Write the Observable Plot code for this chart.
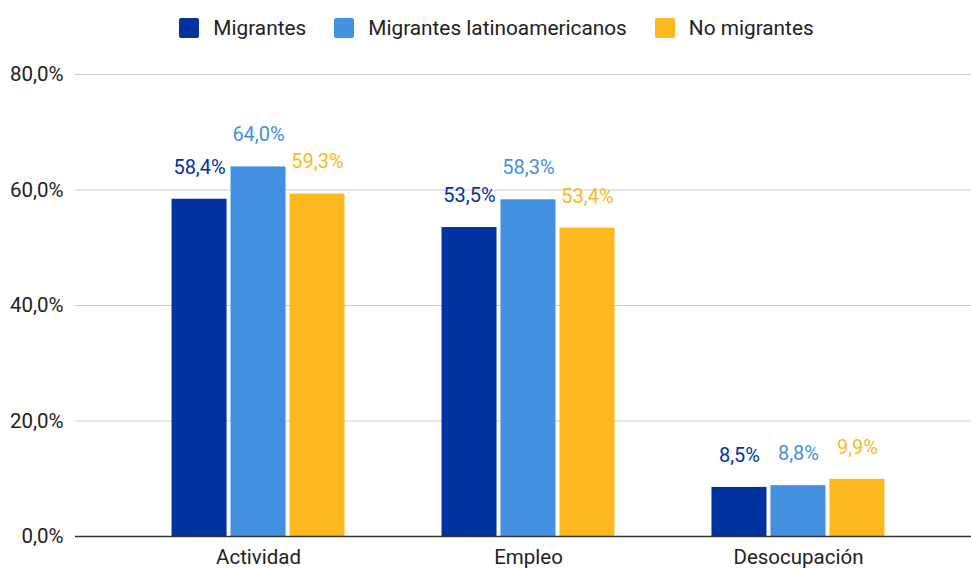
<!DOCTYPE html>
<html>
<head>
<meta charset="utf-8">
<script src="https://cdn.jsdelivr.net/npm/d3@7"></script>
<script src="https://cdn.jsdelivr.net/npm/@observablehq/plot@0.6"></script>
<style>
  body { margin: 0; background: #fff; font-family: Roboto, sans-serif; }
  #legend { height: 56px; display: flex; justify-content: center; align-items: center; font-size: 20.8px; color: #222; padding-left: 22px; }
  .item { display: flex; align-items: center; margin: 0 14px; }
  .sw { width: 20px; height: 20px; border-radius: 2px; margin-right: 14px; }
  svg { display: block; overflow: visible; }
</style>
</head>
<body>
<div id="legend"></div>
<div id="chart"></div>
<script>
const categories = ["Actividad", "Empleo", "Desocupación"];
const seriesNames = ["Migrantes", "Migrantes latinoamericanos", "No migrantes"];
const migrantes = [58.4, 53.5, 8.5];
const latinoamericanos = [64.0, 58.3, 8.8];
const noMigrantes = [59.3, 53.4, 9.9];
const yTicks = [0, 20, 40, 60, 80];
const colors = ["#0033a0", "#4391e0", "#fdb71f"];

const seriesValues = [migrantes, latinoamericanos, noMigrantes];
const data = [];
categories.forEach((c, ci) => {
  seriesNames.forEach((s, si) => {
    data.push({category: c, ci, series: s, si, value: seriesValues[si][ci]});
  });
});

const step = 0.2185, half = 0.1019;
const fmt = v => v.toFixed(1).replace(".", ",") + "%";

const legend = document.getElementById("legend");
seriesNames.forEach((s, i) => {
  const it = document.createElement("div");
  it.className = "item";
  it.innerHTML = `<span class="sw" style="background:${colors[i]}"></span><span>${s}</span>`;
  legend.appendChild(it);
});

const plot = Plot.plot({
  width: 971,
  height: 513,
  marginTop: 18,
  marginBottom: 33,
  marginLeft: 75,
  marginRight: 0,
  style: {fontFamily: "Roboto, sans-serif", background: "#fff", overflow: "visible"},
  x: {type: "linear", domain: [-0.678, 2.641], axis: null},
  y: {domain: [0, 80], axis: null},
  color: {domain: seriesNames, range: colors},
  marks: [
    Plot.ruleY(yTicks.filter(d => d !== 0), {stroke: "#cccccc", strokeWidth: 1}),
    Plot.rect(data, {
      x1: d => d.ci + (d.si - 1) * step - half,
      x2: d => d.ci + (d.si - 1) * step + half,
      y1: 0,
      y2: "value",
      fill: "series"
    }),
    Plot.ruleY([0], {stroke: "#333333", strokeWidth: 1.3}),
    Plot.text(data, {
      x: d => d.ci + (d.si - 1) * step,
      y: "value",
      text: d => fmt(d.value),
      fill: "series",
      dy: -32,
      lineAnchor: "middle",
      fontSize: 20
    }),
    Plot.text(yTicks, {
      y: d => d,
      frameAnchor: "left",
      text: d => fmt(d),
      textAnchor: "end",
      dx: -12,
      fill: "#222",
      fontSize: 20.5
    }),
    Plot.text(categories, {
      x: (d, i) => i,
      y: 0,
      text: d => d,
      dy: 21,
      lineAnchor: "middle",
      fill: "#222",
      fontSize: 20.5
    })
  ]
});
document.getElementById("chart").appendChild(plot);
</script>
</body>
</html>
